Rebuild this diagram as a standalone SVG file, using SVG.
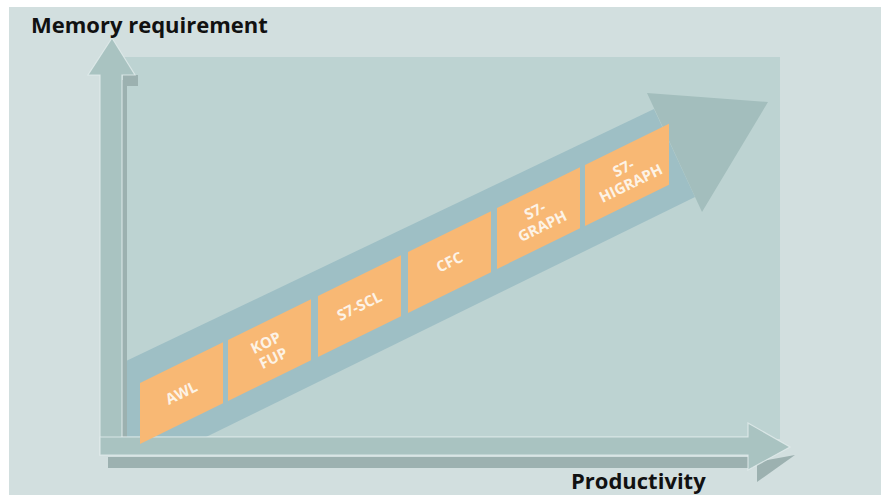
<svg xmlns="http://www.w3.org/2000/svg" width="881" height="495" viewBox="0 0 881 495">
<style>
.lbl{font-family:"Open Sans","Liberation Sans",sans-serif;font-weight:700;font-size:22px;fill:#111}
.box{fill:#f8b874}
.bt{font-family:"Open Sans","Liberation Sans",sans-serif;font-weight:700;font-size:15px;fill:#fdf3e6;text-anchor:middle}
.shaft{fill:#a9c3c1;stroke:#e2ecec;stroke-width:1.2;stroke-opacity:0.8}
.shadow{fill:#9cb1b0}
</style>
<rect x="0" y="0" width="881" height="495" fill="#ffffff"/>
<rect x="9" y="7" width="872" height="488" fill="#d2dfdf"/>
<rect x="122" y="57" width="658" height="382" fill="#bdd3d2"/>
<g id="connectors">
  <g id="trend-arrow">
    <polygon points="124,362 654,109 695,197 206,437 124,437" fill="#9ebfc5"/>
    <polygon points="647,93 768,102 702,212" fill="#a3bebd"/>
  </g>
  <g id="y-axis">
    <rect x="120" y="80" width="7" height="360" class="shadow"/>
    <polygon points="123,75 138,75 138,86 123,86" class="shadow"/>
    <polygon points="100,455 100,75 88,75 112,38 135,75 122,75 122,437" class="shaft"/>
  </g>
  <g id="x-axis">
    <rect x="108" y="457" width="645" height="11" class="shadow"/>
    <polygon points="757,462 795,455 757,482" class="shadow"/>
    <line x1="122" y1="437.5" x2="748" y2="437.5" stroke="#dfeaea" stroke-width="1.5"/>
    <polygon points="100,437 748,437 748,423 790,447 748,470 748,455 100,455" class="shaft"/>
  </g>
</g>
<g id="node-awl">
  <polygon class="box" points="140,383 223,342.3 223,403.3 140,444"/>
  <text class="bt" transform="translate(181.5,393.2) rotate(-26)" y="5">AWL</text>
</g>
<g id="node-kop-fup">
  <polygon class="box" points="228,340 311,299.3 311,360.3 228,401"/>
  <text class="bt" transform="translate(269.5,350.2) rotate(-26)"><tspan x="0" y="-3">KOP</tspan><tspan x="0" y="14">FUP</tspan></text>
</g>
<g id="node-s7-scl">
  <polygon class="box" points="318,296 401,255.3 401,316.3 318,357"/>
  <text class="bt" transform="translate(359.5,306.2) rotate(-26)" y="5">S7-SCL</text>
</g>
<g id="node-cfc">
  <polygon class="box" points="408,252 491,211.3 491,272.3 408,313"/>
  <text class="bt" transform="translate(449.5,262.2) rotate(-26)" y="5">CFC</text>
</g>
<g id="node-s7-graph">
  <polygon class="box" points="497,208 580,167.3 580,228.3 497,269"/>
  <text class="bt" transform="translate(538.5,218.2) rotate(-26)"><tspan x="0" y="-3">S7-</tspan><tspan x="0" y="14">GRAPH</tspan></text>
</g>
<g id="node-s7-higraph">
  <polygon class="box" points="585,165 669,123.8 669,184.8 585,226"/>
  <text class="bt" transform="translate(627,175.4) rotate(-26)"><tspan x="0" y="-3">S7-</tspan><tspan x="0" y="14">HIGRAPH</tspan></text>
</g>
<text class="lbl" x="31" y="33">Memory requirement</text>
<text class="lbl" x="571" y="489">Productivity</text>
</svg>
